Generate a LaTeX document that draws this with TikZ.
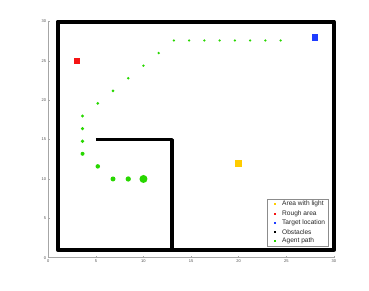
\documentclass[tikz,border=0pt]{standalone}
\usepackage{fontspec}
\setmainfont{Liberation Sans}
\usepackage{tikz}
\usetikzlibrary{positioning}

\definecolor{pathgreen}{RGB}{40,215,0}
\definecolor{lightyellow}{RGB}{255,204,0}
\definecolor{roughred}{RGB}{245,20,20}
\definecolor{targetblue}{RGB}{30,60,255}

\tikzset{
  axisline/.style={draw=black!35,line width=0.7pt},
  walls/.style={draw=black,line width=4pt,line join=round,line cap=round},
  spot/.style={rectangle,minimum size=6.6pt,inner sep=0pt},
  agentdot/.style={circle,fill=pathgreen,inner sep=0pt},
  keymark/.style={rectangle,minimum size=1.8pt,inner sep=0pt},
  keytext/.style={anchor=west,inner sep=0pt,font=\fontsize{6.6}{7}\selectfont,text=black!85}
}

\begin{document}
\begin{tikzpicture}[x=9.52pt,y=7.87pt]
\useasboundingbox (-5.07,-4.23) rectangle (33.69,32.74);
% axes
\coordinate (o) at (0,0);
\coordinate (xend) at (30,0);
\coordinate (yend) at (0,30);
\draw[axisline] (o)--(xend);
\draw[axisline] (o)--(yend);
\foreach \t in {0,5,...,30}{
  \draw[axisline] (\t,0)--++(0,2pt);
  \node[anchor=north,inner sep=0pt,font=\fontsize{4}{4}\selectfont,text=black!70] (xt\t) at ([yshift=-2pt]\t,0) {\t};
  \draw[axisline] (0,\t)--++(2pt,0);
  \node[anchor=east,inner sep=0pt,font=\fontsize{4}{4}\selectfont,text=black!70] (yt\t) at ([xshift=-2pt]0,\t) {\t};
}
% obstacles
\coordinate (bl) at (1,1);
\coordinate (tr) at (30,30);
\draw[walls] (bl) rectangle (tr);
\coordinate (w_a) at (5,15);
\coordinate (w_b) at (13,15);
\coordinate (w_c) at (13,1);
\draw[walls,line width=3.3pt,line cap=butt] (w_a)--(w_b)--(w_c);
% special areas
\node[spot,fill=roughred] (rough) at (3,25) {};
\node[spot,fill=targetblue] (target) at (28,28) {};
\node[spot,fill=lightyellow] (light) at (20,12) {};
% agent path
\node[agentdot,minimum size=8pt] (p1) at (10,10) {};
\node[agentdot,minimum size=5.3pt] (p2) at (8.4,10) {};
\node[agentdot,minimum size=5pt] (p3) at (6.8,10) {};
\node[agentdot,minimum size=4.5pt] (p4) at (5.2,11.6) {};
\node[agentdot,minimum size=4pt] (p5) at (3.6,13.2) {};
\node[agentdot,minimum size=3.7pt] (p6) at (3.6,14.8) {};
\node[agentdot,minimum size=3.4pt] (p7) at (3.6,16.4) {};
\node[agentdot,minimum size=3.2pt] (p8) at (3.6,18) {};
\node[agentdot,minimum size=3pt] (p9) at (5.2,19.6) {};
\node[agentdot,minimum size=3pt] (p10) at (6.8,21.2) {};
\node[agentdot,minimum size=2.8pt] (p11) at (8.4,22.8) {};
\node[agentdot,minimum size=2.7pt] (p12) at (10,24.4) {};
\node[agentdot,minimum size=2.6pt] (p13) at (11.6,26) {};
\node[agentdot,minimum size=2.5pt] (p14) at (13.2,27.6) {};
\node[agentdot,minimum size=2.5pt] (p15) at (14.8,27.6) {};
\node[agentdot,minimum size=2.5pt] (p16) at (16.4,27.6) {};
\node[agentdot,minimum size=2.5pt] (p17) at (18,27.6) {};
\node[agentdot,minimum size=2.5pt] (p18) at (19.6,27.6) {};
\node[agentdot,minimum size=2.5pt] (p19) at (21.2,27.6) {};
\node[agentdot,minimum size=2.5pt] (p20) at (22.8,27.6) {};
\node[agentdot,minimum size=2.5pt] (p21) at (24.4,27.6) {};
% legend
\node[draw=black!45,line width=0.6pt,fill=white,minimum width=61pt,minimum height=47.4pt,inner sep=0pt] (key) at (26.21,4.41) {};
\node[keymark,fill=lightyellow] (k_light) at (23.81,6.79) {};
\node[keymark,fill=roughred] (k_rough) at (23.81,5.59) {};
\node[keymark,fill=targetblue] (k_target) at (23.81,4.45) {};
\node[keymark,fill=black] (k_obst) at (23.81,3.27) {};
\node[keymark,fill=pathgreen] (k_path) at (23.81,2.12) {};
\node[keytext] (t_light) at (24.55,6.79) {Area with light};
\node[keytext] (t_rough) at (24.55,5.59) {Rough area};
\node[keytext] (t_target) at (24.55,4.45) {Target location};
\node[keytext] (t_obst) at (24.55,3.27) {Obstacles};
\node[keytext] (t_path) at (24.55,2.12) {Agent path};
\end{tikzpicture}
\end{document}
